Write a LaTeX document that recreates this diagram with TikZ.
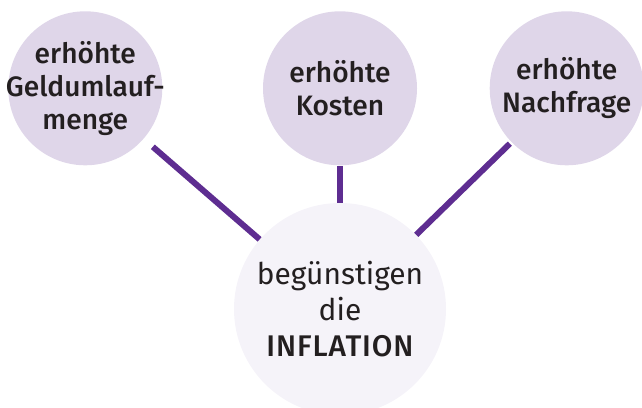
\documentclass[tikz,border=0pt]{standalone}
\usepackage{fontspec}
\setmainfont{Fira Sans}
\newfontfamily\mediumfont{Fira Sans Medium}
\usepackage{xcolor}
\usetikzlibrary{positioning}

\definecolor{causefill}{HTML}{DFD6E9}
\definecolor{effectfill}{HTML}{F5F3F9}
\definecolor{linkpurple}{HTML}{5E2D91}
\definecolor{textdark}{HTML}{231F20}

\begin{document}
\begin{tikzpicture}[
  x=0.2mm, y=0.2mm,
  node distance=7.4mm and 20mm,
  cause/.style={circle, fill=causefill, minimum size=30.8mm, inner sep=-5mm, align=center, text=textdark, font=\mediumfont\fontsize{16}{18.8}\selectfont},
  effect/.style={circle, fill=effectfill, minimum size=42.4mm, inner sep=-3mm, align=center, text=textdark, font=\fontsize{17}{20.5}\selectfont},
  link/.style={draw=linkpurple, line width=3.4pt}
]
\useasboundingbox (0,0) rectangle (642,407);

% Effect at the bottom
\node[effect] (inflation) at (340,98) {begünstigen\\die\\{\mediumfont\addfontfeature{LetterSpace=3} INFLATION}};

% Causes in a row above
\node[cause, above=7.4mm of inflation] (kosten) {erhöhte\\Kosten};
\node[cause, left=20mm of kosten] (geldmenge) {erhöhte\\Geldumlauf-\\menge};
\node[cause, right=14.4mm of kosten] (nachfrage) {erhöhte\\Nachfrage};

% Connectors
\draw[link, shorten <=2.4mm] (geldmenge) -- (inflation);
\draw[link] (kosten) -- (inflation);
\draw[link, shorten <=0.4mm] (nachfrage) -- (inflation);

\end{tikzpicture}
\end{document}
